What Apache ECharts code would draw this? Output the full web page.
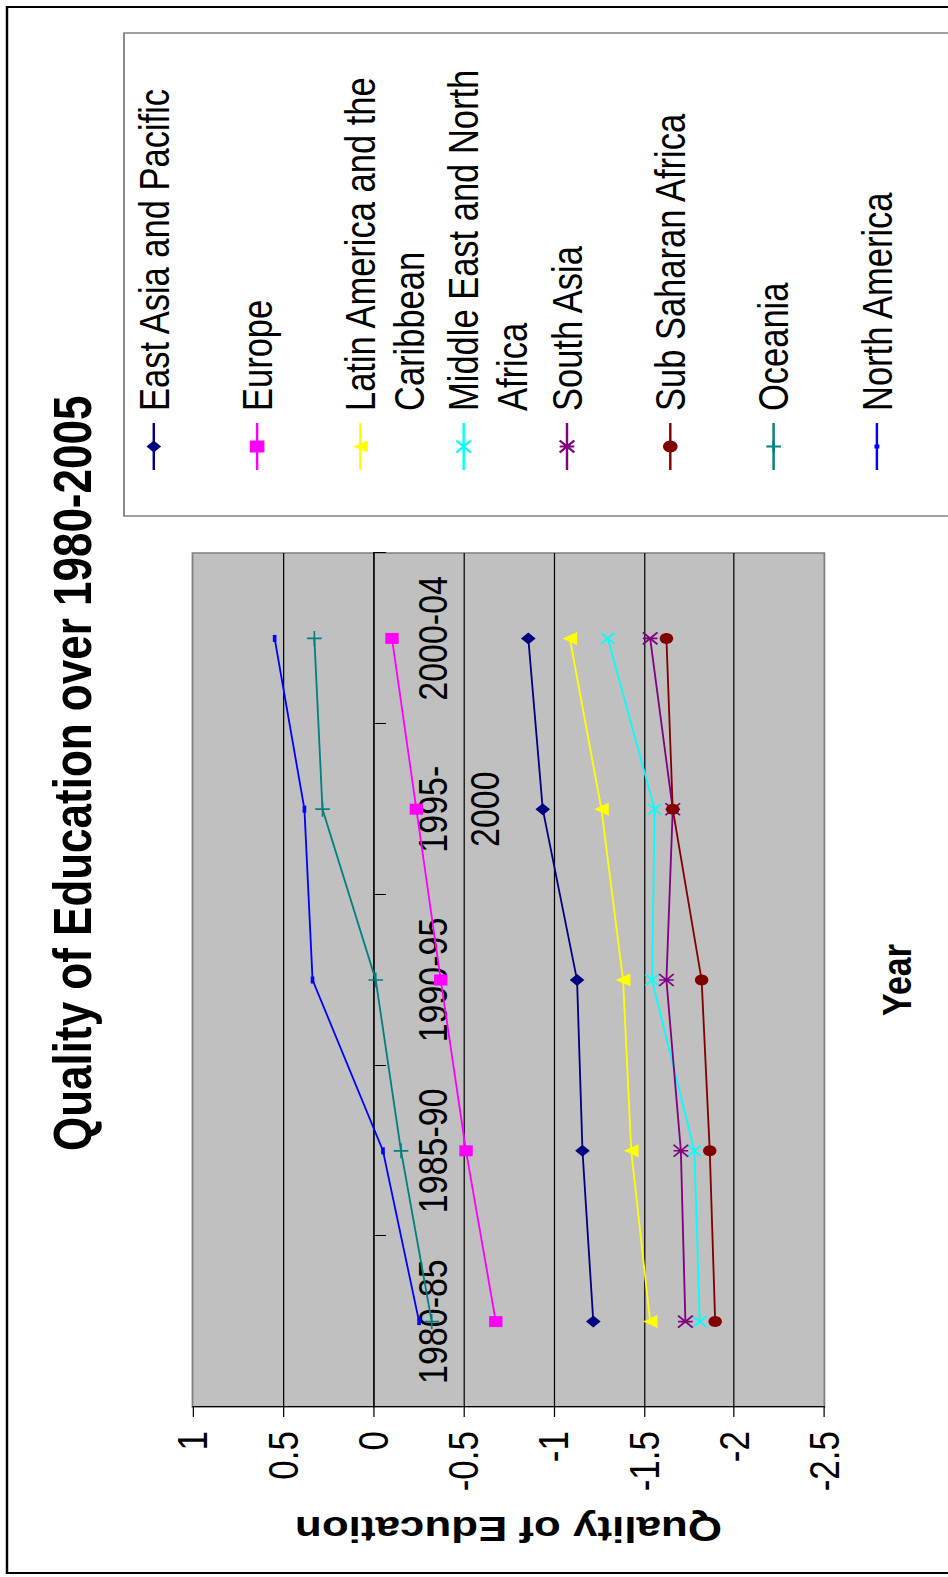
<!DOCTYPE html>
<html>
<head>
<meta charset="utf-8">
<script src="https://cdn.jsdelivr.net/npm/echarts@6/dist/echarts.min.js"></script>
<style>
  html, body { margin: 0; padding: 0; background: #fff; overflow: hidden; width: 948px; height: 1577px; }
  /* The chart is laid out sideways: drawn landscape, then turned to read bottom-to-top. */
  #chart { position: absolute; left: 0; top: 0; width: 1577px; transform-origin: 0 0; }
</style>
</head>
<body>
<div id="chart"></div>
<script>
// ---- data ----
const categories = ['1980-85', '1985-90', '1990-95', '1995-2000', '2000-04'];

const eastAsiaPacific = [-1.22, -1.16, -1.13, -0.94, -0.86];
const europe          = [-0.68, -0.515, -0.375, -0.24, -0.105];
const latinAmerica    = [-1.535, -1.43, -1.385, -1.265, -1.09];
const middleEast      = [-1.81, -1.78, -1.545, -1.56, -1.30];
const southAsia       = [-1.73, -1.705, -1.625, -1.66, -1.535];
const subSaharan      = [-1.895, -1.865, -1.82, -1.66, -1.625];
const oceania         = [-0.325, -0.155, -0.015, 0.28, 0.325];
const northAmerica    = [-0.255, -0.055, 0.335, 0.38, 0.545];

const seriesNames = [
  'East Asia and Pacific', 'Europe', 'Latin America and the Caribbean',
  'Middle East and North Africa', 'South Asia', 'Sub Saharan Africa',
  'Oceania', 'North America'
];
const legendLabels = [
  'East Asia and Pacific', 'Europe', 'Latin America and the\nCaribbean',
  'Middle East and North\nAfrica', 'South Asia', 'Sub Saharan Africa',
  'Oceania', 'North America'
];
const seriesValues = [eastAsiaPacific, europe, latinAmerica, middleEast,
                      southAsia, subSaharan, oceania, northAmerica];

const valueMin = -2.5, valueMax = 1, valueStep = 0.5;

// ---- styling ----
const S = 1.22;                 // vertical stretch of the landscape layout
const W = 1577, H = 948 / S;
const FONT = "'Liberation Sans', Arial, Helvetica, sans-serif";

const el = document.getElementById('chart');
el.style.height = H + 'px';
el.style.transform = 'translate(0px, 1577px) rotate(-90deg) scaleY(' + S + ')';

const markerStyles = [
  { color: '#000080', symbol: 'diamond', size: 12, border: 0 },
  { color: '#FF00FF', symbol: 'rect', size: 11, border: 0 },
  { color: '#FFFF00', symbol: 'triangle', size: [13, 12], border: 0 },
  { color: '#00FFFF', symbol: 'path://M0,0L10,10M10,0L0,10', size: 11, border: 1.6 },
  { color: '#800080', symbol: 'path://M0,0L10,10M10,0L0,10M5,0L5,10', size: 12, border: 1.6 },
  { color: '#800000', symbol: 'circle', size: 11, border: 0 },
  { color: '#008080', symbol: 'path://M5,0L5,10M0,5L10,5', size: [15, 12], border: 1.5 },
  { color: '#0000FF', symbol: 'rect', size: [7, 3], border: 0 }
];

const series = seriesNames.map((name, i) => {
  const m = markerStyles[i];
  return {
    name: name,
    type: 'line',
    data: seriesValues[i],
    symbol: m.symbol,
    symbolSize: m.size,
    showAllSymbol: true,
    lineStyle: { color: m.color, width: 1.5 },
    itemStyle: { color: m.color, borderColor: m.color, borderWidth: m.border },
    emphasis: { disabled: true },
    animation: false
  };
});

// one legend block per series so that every entry sits on its own row;
// wrapped names keep their first line level with the marker
const LEGEND_FIRST = 153.8, LEGEND_STEP = 103.3, LEGEND_LH = 40;
const legends = seriesNames.map((name, i) => {
  const label = legendLabels[i];
  const n = label.split('\n').length;
  const c = (LEGEND_FIRST + i * LEGEND_STEP) / S;
  const shown = '\n'.repeat(n - 1) + label;
  return {
    data: [name],
    orient: 'vertical',
    left: 1106,
    top: c - (2 * n - 1) * LEGEND_LH / 2,
    padding: 0,
    itemWidth: 47,
    itemHeight: i === 7 ? 5 : 15,
    itemGap: 0,
    selectedMode: false,
    formatter: () => shown,
    textStyle: {
      fontFamily: FONT, fontSize: 34.5, color: '#000', lineHeight: LEGEND_LH,
      padding: [0, 0, 0, 7]
    }
  };
});

const plotTop = 192.5 / S, plotHeight = 631.9 / S;
// category axis runs along the zero line of the value axis
const zeroOffset = -plotHeight * (0 - valueMin) / (valueMax - valueMin);

const option = {
  animation: false,
  backgroundColor: '#ffffff',
  textStyle: { fontFamily: FONT },
  title: {
    text: 'Quality of Education over 1980-2005',
    left: 426, top: 37, padding: 0,
    textStyle: { fontFamily: FONT, fontSize: 44, fontWeight: 'bold', color: '#000', lineHeight: 44 }
  },
  legend: legends,
  graphic: [
    { type: 'rect', silent: true, z: -10,
      shape: { x: 4, y: 7 / S, width: 1566, height: 900 },
      style: { fill: 'none', stroke: '#000', lineWidth: 2 } },
    { type: 'rect', silent: true, z: -10,
      shape: { x: 1061, y: 124 / S, width: 483, height: 900 },
      style: { fill: 'none', stroke: '#808080', lineWidth: 1.5 } }
  ],
  grid: {
    left: 170, top: plotTop, width: 854, height: plotHeight,
    show: true, backgroundColor: '#c0c0c0', borderColor: '#808080', borderWidth: 1.5,
    containLabel: false, outerBoundsMode: 'none'
  },
  xAxis: {
    type: 'category',
    data: categories,
    boundaryGap: true,
    position: 'bottom',
    offset: zeroOffset,
    name: 'Year',
    nameLocation: 'middle',
    nameGap: 412,
    nameTextStyle: { fontFamily: FONT, fontSize: 34, fontWeight: 'bold', color: '#000', lineHeight: 34 },
    axisLine: { show: true, onZero: false, lineStyle: { color: '#000', width: 1 } },
    axisTick: { show: true, length: 10.7, lineStyle: { color: '#000', width: 1 } },
    axisLabel: {
      interval: 0, margin: 28, fontSize: 34, lineHeight: 42.6, color: '#000', fontFamily: FONT,
      formatter: (v) => v.length > 7 ? v.replace('-', '-\n') : v
    },
    splitLine: { show: false }
  },
  yAxis: {
    type: 'value',
    min: valueMin, max: valueMax, interval: valueStep,
    name: 'Quality of Education',
    nameLocation: 'middle',
    nameGap: 104,
    nameTextStyle: { fontFamily: FONT, fontSize: 36, fontWeight: 'bold', color: '#000', lineHeight: 36 },
    axisLine: { show: true, lineStyle: { color: '#000', width: 1 } },
    axisTick: { show: true, length: 10, lineStyle: { color: '#000', width: 1 } },
    axisLabel: { margin: 24, fontSize: 35, color: '#000', fontFamily: FONT, lineHeight: 35 },
    splitLine: { show: true, showMinLine: false, showMaxLine: false, lineStyle: { color: '#000', width: 1 } }
  },
  series: series
};

const chart = echarts.init(el, null, { renderer: 'svg', width: W, height: H });
chart.setOption(option);
</script>
</body>
</html>
